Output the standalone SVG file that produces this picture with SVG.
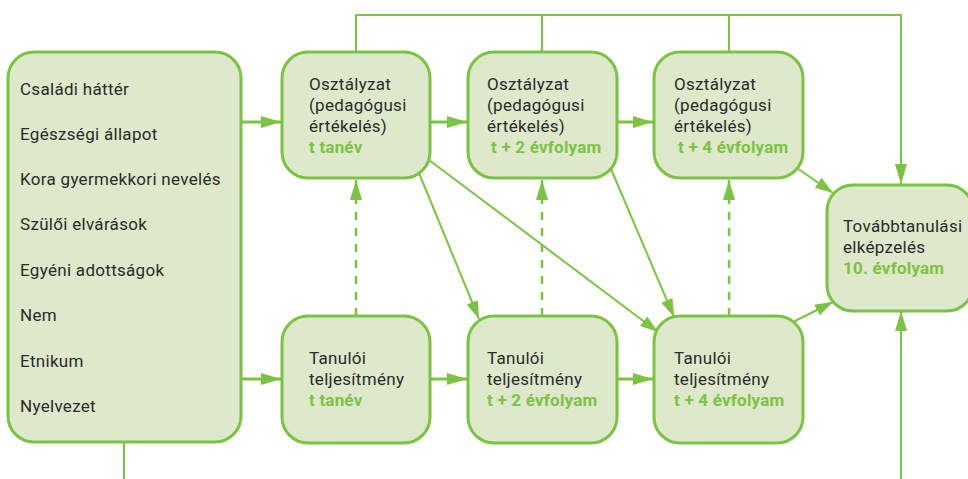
<svg xmlns="http://www.w3.org/2000/svg" width="968" height="479" viewBox="0 0 968 479">
<defs>
<style>
.box{fill:#dde9ca;stroke:#7cc243;stroke-width:3}
.ln{fill:none;stroke:#7cc243;stroke-width:2}
.lnt{fill:none;stroke:#7cc243;stroke-width:3}
.dash{fill:none;stroke:#7cc243;stroke-width:2.5;stroke-dasharray:8 8}
text{font-family:Roboto,"Liberation Sans",sans-serif;font-size:17px;letter-spacing:0.3px;fill:#2b2b2b}
.g{fill:#7cc243;font-weight:bold;letter-spacing:0.2px}
</style>
<marker id="ah" markerUnits="userSpaceOnUse" markerWidth="20" markerHeight="12" refX="20" refY="6" orient="auto" viewBox="0 0 20 12">
<path d="M0,0 L20,6 L0,12 z" fill="#7cc243"/>
</marker>
<marker id="as" markerUnits="userSpaceOnUse" markerWidth="18" markerHeight="12" refX="18" refY="6" orient="auto" viewBox="0 0 18 12">
<path d="M0,0 L18,6 L0,12 z" fill="#7cc243"/>
</marker>
</defs>
<g id="connectors">
<polyline class="ln" points="356,52 356,15 901,15 901,184" marker-end="url(#ah)"/>
<line class="ln" x1="542" y1="52" x2="542" y2="15"/>
<line class="ln" x1="729" y1="52" x2="729" y2="15"/>
<line class="ln" x1="124" y1="442" x2="124" y2="479"/>
<line class="ln" x1="901" y1="479" x2="901" y2="311" marker-end="url(#ah)"/>
<line class="lnt" x1="241" y1="122" x2="281" y2="122" marker-end="url(#ah)"/>
<line class="lnt" x1="430" y1="122" x2="467" y2="122" marker-end="url(#ah)"/>
<line class="lnt" x1="617" y1="122" x2="653" y2="122" marker-end="url(#ah)"/>
<line class="lnt" x1="241" y1="379" x2="281" y2="379" marker-end="url(#ah)"/>
<line class="lnt" x1="430" y1="379" x2="467" y2="379" marker-end="url(#ah)"/>
<line class="lnt" x1="617" y1="379" x2="653" y2="379" marker-end="url(#ah)"/>
<line class="dash" x1="356" y1="316" x2="356" y2="180" marker-end="url(#ah)"/>
<line class="dash" x1="542" y1="316" x2="542" y2="180" marker-end="url(#ah)"/>
<line class="dash" x1="729" y1="316" x2="729" y2="180" marker-end="url(#ah)"/>
<line class="ln" x1="419" y1="173" x2="479" y2="319" marker-end="url(#as)"/>
<line class="ln" x1="429" y1="160" x2="658" y2="332" marker-end="url(#as)"/>
<line class="ln" x1="611" y1="169" x2="674" y2="317" marker-end="url(#as)"/>
<line class="ln" x1="797" y1="168" x2="833" y2="193" marker-end="url(#as)"/>
<line class="ln" x1="793" y1="322" x2="833" y2="302" marker-end="url(#as)"/>
</g>
<g id="factors">
<rect class="box" x="8" y="52" width="233" height="390" rx="26"/>
<text x="20" y="95">Családi háttér</text>
<text x="20" y="140">Egészségi állapot</text>
<text x="20" y="185">Kora gyermekkori nevelés</text>
<text x="20" y="230">Szülői elvárások</text>
<text x="20" y="276">Egyéni adottságok</text>
<text x="20" y="321">Nem</text>
<text x="20" y="367">Etnikum</text>
<text x="20" y="412">Nyelvezet</text>
</g>
<g id="osz1">
<rect class="box" x="282" y="52" width="148" height="126" rx="26"/>
<text x="309" y="90">Osztályzat</text>
<text x="309" y="111">(pedagógusi</text>
<text x="309" y="132">értékelés)</text>
<text x="309" y="153" class="g">t tanév</text>
</g>
<g id="osz2">
<rect class="box" x="468" y="52" width="149" height="126" rx="26"/>
<text x="487" y="90">Osztályzat</text>
<text x="487" y="111">(pedagógusi</text>
<text x="487" y="132">értékelés)</text>
<text x="491" y="153" class="g">t + 2 évfolyam</text>
</g>
<g id="osz3">
<rect class="box" x="654" y="52" width="149" height="126" rx="26"/>
<text x="674" y="90">Osztályzat</text>
<text x="674" y="111">(pedagógusi</text>
<text x="674" y="132">értékelés)</text>
<text x="678" y="153" class="g">t + 4 évfolyam</text>
</g>
<g id="tan1">
<rect class="box" x="282" y="316" width="148" height="127" rx="26"/>
<text x="309" y="364">Tanulói</text>
<text x="309" y="385">teljesítmény</text>
<text x="309" y="406" class="g">t tanév</text>
</g>
<g id="tan2">
<rect class="box" x="468" y="316" width="149" height="127" rx="26"/>
<text x="487" y="364">Tanulói</text>
<text x="487" y="385">teljesítmény</text>
<text x="487" y="406" class="g">t + 2 évfolyam</text>
</g>
<g id="tan3">
<rect class="box" x="654" y="316" width="149" height="127" rx="26"/>
<text x="674" y="364">Tanulói</text>
<text x="674" y="385">teljesítmény</text>
<text x="674" y="406" class="g">t + 4 évfolyam</text>
</g>
<g id="tovabb">
<rect class="box" x="827" y="185" width="146" height="126" rx="26"/>
<text x="843" y="232">Továbbtanulási</text>
<text x="843" y="253">elképzelés</text>
<text x="843" y="274" class="g">10. évfolyam</text>
</g>
</svg>
